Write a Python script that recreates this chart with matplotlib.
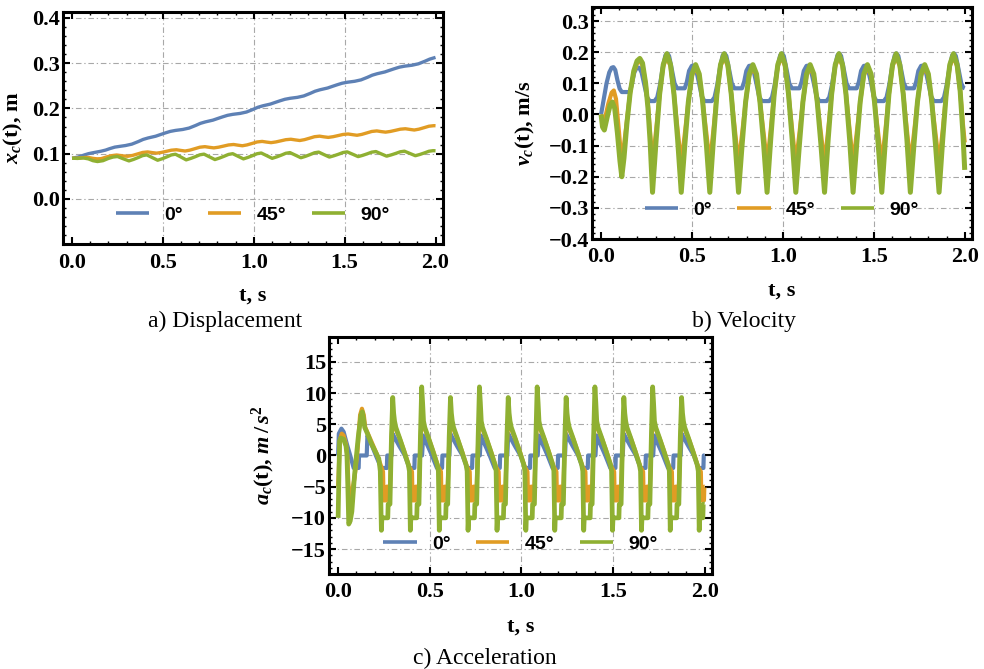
"""
Kinematics of the point c for three inclination angles.

Three framed panels: displacement, velocity and acceleration vs time.
"""

import matplotlib
matplotlib.use("Agg")
import matplotlib.pyplot as plt
from matplotlib.ticker import MultipleLocator

COLORS = ["#5E81B5", "#E19C24", "#8FB032"]
LABELS = ["0°", "45°", "90°"]

time_ticks = [0.0, 0.5, 1.0, 1.5, 2.0]
disp_ticks = [0.0, 0.1, 0.2, 0.3, 0.4]
vel_ticks = [-0.4, -0.3, -0.2, -0.1, 0.0, 0.1, 0.2, 0.3]
acc_ticks = [-15, -10, -5, 0, 5, 10, 15]

# ---- displacement x_c(t), m : (t, x)
disp_blue = [
    (0.000, 0.0900), (0.033, 0.0925), (0.066, 0.0970), (0.090, 0.1000), (0.114, 0.1020),
    (0.160, 0.1055), (0.185, 0.1080), (0.206, 0.1110), (0.235, 0.1145), (0.268, 0.1165),
    (0.294, 0.1180), (0.329, 0.1211), (0.364, 0.1267), (0.391, 0.1315), (0.418, 0.1347),
    (0.460, 0.1386), (0.486, 0.1422), (0.512, 0.1457), (0.540, 0.1492), (0.569, 0.1514),
    (0.609, 0.1535), (0.644, 0.1566), (0.679, 0.1622), (0.706, 0.1670), (0.733, 0.1702),
    (0.775, 0.1741), (0.801, 0.1777), (0.827, 0.1812), (0.855, 0.1847), (0.884, 0.1869),
    (0.925, 0.1890), (0.960, 0.1921), (0.995, 0.1977), (1.022, 0.2025), (1.049, 0.2057),
    (1.091, 0.2096), (1.117, 0.2132), (1.143, 0.2167), (1.171, 0.2202), (1.200, 0.2224),
    (1.240, 0.2245), (1.275, 0.2276), (1.310, 0.2332), (1.337, 0.2380), (1.364, 0.2412),
    (1.406, 0.2451), (1.432, 0.2487), (1.458, 0.2522), (1.486, 0.2557), (1.515, 0.2579),
    (1.555, 0.2600), (1.590, 0.2631), (1.625, 0.2687), (1.652, 0.2735), (1.679, 0.2767),
    (1.721, 0.2806), (1.747, 0.2842), (1.773, 0.2877), (1.801, 0.2912), (1.830, 0.2934),
    (1.871, 0.2955), (1.906, 0.2986), (1.941, 0.3042), (1.968, 0.3090), (2.000, 0.3128),
]
disp_orange = [
    (0.000, 0.0900), (0.020, 0.0898), (0.050, 0.0908), (0.075, 0.0918), (0.095, 0.0913),
    (0.115, 0.0897), (0.138, 0.0886), (0.160, 0.0890), (0.190, 0.0928), (0.215, 0.0955),
    (0.245, 0.0970), (0.270, 0.0958), (0.283, 0.0950),
    (0.307, 0.0943), (0.333, 0.0962), (0.362, 0.0996), (0.388, 0.1027), (0.416, 0.1039), (0.441, 0.1024),
    (0.465, 0.1012), (0.491, 0.1027), (0.520, 0.1053), (0.546, 0.1077), (0.574, 0.1087), (0.598, 0.1072),
    (0.622, 0.1059), (0.648, 0.1078), (0.677, 0.1112), (0.703, 0.1143), (0.731, 0.1155), (0.756, 0.1140),
    (0.780, 0.1128), (0.806, 0.1143), (0.835, 0.1169), (0.861, 0.1193), (0.889, 0.1203), (0.913, 0.1188),
    (0.937, 0.1175), (0.963, 0.1194), (0.992, 0.1228), (1.018, 0.1259), (1.046, 0.1271), (1.071, 0.1256),
    (1.095, 0.1244), (1.121, 0.1259), (1.150, 0.1285), (1.176, 0.1309), (1.204, 0.1319), (1.229, 0.1304),
    (1.253, 0.1291), (1.279, 0.1310), (1.308, 0.1344), (1.334, 0.1375), (1.362, 0.1387), (1.386, 0.1372),
    (1.410, 0.1360), (1.436, 0.1375), (1.465, 0.1401), (1.491, 0.1425), (1.519, 0.1435), (1.544, 0.1420),
    (1.568, 0.1407), (1.594, 0.1426), (1.623, 0.1460), (1.649, 0.1491), (1.677, 0.1503), (1.701, 0.1488),
    (1.725, 0.1476), (1.751, 0.1491), (1.780, 0.1517), (1.806, 0.1541), (1.834, 0.1551), (1.859, 0.1536),
    (1.883, 0.1523), (1.909, 0.1542), (1.938, 0.1576), (1.964, 0.1607), (1.992, 0.1619), (2.000, 0.1617),
]
disp_green = [
    (0.000, 0.0900), (0.030, 0.0895), (0.062, 0.0905), (0.090, 0.0885), (0.115, 0.0845),
    (0.140, 0.0826), (0.170, 0.0845), (0.200, 0.0895), (0.225, 0.0925), (0.250, 0.0937),
    (0.280, 0.0890),
    (0.313, 0.0840), (0.338, 0.0873), (0.363, 0.0913), (0.388, 0.0957), (0.411, 0.0973), (0.441, 0.0914),
    (0.471, 0.0855), (0.496, 0.0888), (0.521, 0.0928), (0.546, 0.0972), (0.569, 0.0988), (0.599, 0.0926),
    (0.628, 0.0863), (0.653, 0.0895), (0.678, 0.0933), (0.703, 0.0975), (0.726, 0.0990), (0.756, 0.0930),
    (0.786, 0.0870), (0.811, 0.0903), (0.836, 0.0942), (0.861, 0.0984), (0.884, 0.1000), (0.913, 0.0943),
    (0.943, 0.0885), (0.968, 0.0918), (0.993, 0.0957), (1.018, 0.0999), (1.041, 0.1015), (1.071, 0.0956),
    (1.101, 0.0897), (1.126, 0.0929), (1.151, 0.0967), (1.176, 0.1009), (1.199, 0.1024), (1.229, 0.0967),
    (1.259, 0.0910), (1.284, 0.0941), (1.309, 0.0979), (1.334, 0.1020), (1.357, 0.1035), (1.386, 0.0980),
    (1.416, 0.0925), (1.441, 0.0954), (1.466, 0.0988), (1.491, 0.1026), (1.514, 0.1040), (1.544, 0.0988),
    (1.574, 0.0935), (1.599, 0.0963), (1.624, 0.0997), (1.649, 0.1034), (1.672, 0.1047), (1.701, 0.0996),
    (1.731, 0.0945), (1.756, 0.0973), (1.781, 0.1006), (1.806, 0.1042), (1.829, 0.1055), (1.859, 0.1005),
    (1.889, 0.0955), (1.914, 0.0983), (1.939, 0.1017), (1.964, 0.1054), (1.987, 0.1067), (2.000, 0.1064),
]

# ---- velocity v_c(t), m/s
vel_blue = [
    (0.000, 0.000), (0.015, 0.050), (0.030, 0.100), (0.045, 0.135), (0.058, 0.150), (0.068, 0.152),
    (0.078, 0.143), (0.090, 0.110), (0.102, 0.083), (0.114, 0.072), (0.158, 0.072), (0.170, 0.100),
    (0.183, 0.135), (0.196, 0.150), (0.210, 0.150), (0.223, 0.135), (0.238, 0.095), (0.253, 0.055),
    (0.268, 0.043),
    (0.294, 0.043), (0.309, 0.055), (0.324, 0.095), (0.339, 0.150), (0.354, 0.190), (0.364, 0.196),
    (0.374, 0.188), (0.389, 0.145), (0.404, 0.100), (0.418, 0.084), (0.460, 0.084), (0.472, 0.105),
    (0.484, 0.140), (0.499, 0.156), (0.512, 0.157), (0.524, 0.140), (0.539, 0.100), (0.554, 0.058),
    (0.569, 0.043),
    (0.609, 0.043), (0.624, 0.055), (0.639, 0.095), (0.654, 0.150), (0.669, 0.190), (0.679, 0.196),
    (0.689, 0.188), (0.704, 0.145), (0.719, 0.100), (0.733, 0.084), (0.775, 0.084), (0.787, 0.105),
    (0.799, 0.140), (0.814, 0.156), (0.827, 0.157), (0.839, 0.140), (0.854, 0.100), (0.869, 0.058),
    (0.884, 0.043),
    (0.925, 0.043), (0.940, 0.055), (0.955, 0.095), (0.970, 0.150), (0.985, 0.190), (0.995, 0.196),
    (1.005, 0.188), (1.020, 0.145), (1.035, 0.100), (1.049, 0.084), (1.091, 0.084), (1.103, 0.105),
    (1.115, 0.140), (1.130, 0.156), (1.143, 0.157), (1.155, 0.140), (1.170, 0.100), (1.185, 0.058),
    (1.200, 0.043),
    (1.240, 0.043), (1.255, 0.055), (1.270, 0.095), (1.285, 0.150), (1.300, 0.190), (1.310, 0.196),
    (1.320, 0.188), (1.335, 0.145), (1.350, 0.100), (1.364, 0.084), (1.406, 0.084), (1.418, 0.105),
    (1.430, 0.140), (1.445, 0.156), (1.458, 0.157), (1.470, 0.140), (1.485, 0.100), (1.500, 0.058),
    (1.515, 0.043),
    (1.555, 0.043), (1.570, 0.055), (1.585, 0.095), (1.600, 0.150), (1.615, 0.190), (1.625, 0.196),
    (1.635, 0.188), (1.650, 0.145), (1.665, 0.100), (1.679, 0.084), (1.721, 0.084), (1.733, 0.105),
    (1.745, 0.140), (1.760, 0.156), (1.773, 0.157), (1.785, 0.140), (1.800, 0.100), (1.815, 0.058),
    (1.830, 0.043),
    (1.871, 0.043), (1.886, 0.055), (1.901, 0.095), (1.916, 0.150), (1.931, 0.190), (1.941, 0.196),
    (1.951, 0.188), (1.966, 0.145), (1.981, 0.100), (1.992, 0.086), (2.000, 0.084),
]
vel_orange = [
    (0.000, 0.000), (0.010, -0.020), (0.022, -0.012), (0.040, 0.035), (0.058, 0.070), (0.070, 0.077),
    (0.082, 0.050), (0.096, -0.040), (0.108, -0.120), (0.115, -0.160), (0.123, -0.115), (0.142, -0.020),
    (0.160, 0.070), (0.180, 0.135), (0.198, 0.165), (0.213, 0.172), (0.228, 0.158), (0.245, 0.100),
    (0.258, 0.030), (0.270, -0.060),
    (0.283, -0.160), (0.303, -0.050), (0.322, 0.065), (0.342, 0.155), (0.362, 0.185), (0.382, 0.155), (0.401, 0.065), (0.421, -0.050),
    (0.441, -0.160), (0.461, -0.060), (0.480, 0.040), (0.500, 0.125), (0.520, 0.152), (0.540, 0.125), (0.559, 0.040), (0.579, -0.060),
    (0.598, -0.160), (0.618, -0.050), (0.637, 0.065), (0.657, 0.155), (0.677, 0.185), (0.697, 0.155), (0.716, 0.065), (0.736, -0.050),
    (0.756, -0.160), (0.776, -0.060), (0.795, 0.040), (0.815, 0.125), (0.835, 0.152), (0.855, 0.125), (0.874, 0.040), (0.894, -0.060),
    (0.913, -0.160), (0.933, -0.050), (0.952, 0.065), (0.972, 0.155), (0.992, 0.185), (1.012, 0.155), (1.031, 0.065), (1.051, -0.050),
    (1.071, -0.160), (1.091, -0.060), (1.110, 0.040), (1.130, 0.125), (1.150, 0.152), (1.170, 0.125), (1.189, 0.040), (1.209, -0.060),
    (1.229, -0.160), (1.249, -0.050), (1.268, 0.065), (1.288, 0.155), (1.308, 0.185), (1.328, 0.155), (1.347, 0.065), (1.367, -0.050),
    (1.386, -0.160), (1.406, -0.060), (1.425, 0.040), (1.445, 0.125), (1.465, 0.152), (1.485, 0.125), (1.504, 0.040), (1.524, -0.060),
    (1.544, -0.160), (1.564, -0.050), (1.583, 0.065), (1.603, 0.155), (1.623, 0.185), (1.643, 0.155), (1.662, 0.065), (1.682, -0.050),
    (1.701, -0.160), (1.721, -0.060), (1.740, 0.040), (1.760, 0.125), (1.780, 0.152), (1.800, 0.125), (1.819, 0.040), (1.839, -0.060),
    (1.859, -0.160), (1.879, -0.050), (1.898, 0.065), (1.918, 0.155), (1.938, 0.185), (1.958, 0.155), (1.975, 0.075), (1.990, -0.030),
    (2.000, -0.090),
]
vel_green = [
    (0.000, 0.000), (0.008, -0.040), (0.018, -0.050), (0.035, -0.005), (0.050, 0.030), (0.062, 0.040),
    (0.075, 0.020), (0.090, -0.060), (0.104, -0.150), (0.114, -0.200), (0.126, -0.140), (0.142, -0.030),
    (0.160, 0.070), (0.180, 0.140), (0.198, 0.172), (0.213, 0.180), (0.228, 0.165), (0.245, 0.100),
    (0.258, 0.020), (0.270, -0.090),
    (0.283, -0.250), (0.303, -0.080), (0.322, 0.065), (0.342, 0.160), (0.362, 0.195), (0.382, 0.160), (0.401, 0.065), (0.421, -0.080),
    (0.441, -0.250), (0.461, -0.095), (0.480, 0.040), (0.500, 0.130), (0.520, 0.160), (0.540, 0.130), (0.559, 0.040), (0.579, -0.095),
    (0.598, -0.250), (0.618, -0.080), (0.637, 0.065), (0.657, 0.160), (0.677, 0.195), (0.697, 0.160), (0.716, 0.065), (0.736, -0.080),
    (0.756, -0.250), (0.776, -0.095), (0.795, 0.040), (0.815, 0.130), (0.835, 0.160), (0.855, 0.130), (0.874, 0.040), (0.894, -0.095),
    (0.913, -0.250), (0.933, -0.080), (0.952, 0.065), (0.972, 0.160), (0.992, 0.195), (1.012, 0.160), (1.031, 0.065), (1.051, -0.080),
    (1.071, -0.250), (1.091, -0.095), (1.110, 0.040), (1.130, 0.130), (1.150, 0.160), (1.170, 0.130), (1.189, 0.040), (1.209, -0.095),
    (1.229, -0.250), (1.249, -0.080), (1.268, 0.065), (1.288, 0.160), (1.308, 0.195), (1.328, 0.160), (1.347, 0.065), (1.367, -0.080),
    (1.386, -0.250), (1.406, -0.095), (1.425, 0.040), (1.445, 0.130), (1.465, 0.160), (1.485, 0.130), (1.504, 0.040), (1.524, -0.095),
    (1.544, -0.250), (1.564, -0.080), (1.583, 0.065), (1.603, 0.160), (1.623, 0.195), (1.643, 0.160), (1.662, 0.065), (1.682, -0.080),
    (1.701, -0.250), (1.721, -0.095), (1.740, 0.040), (1.760, 0.130), (1.780, 0.160), (1.800, 0.130), (1.819, 0.040), (1.839, -0.095),
    (1.859, -0.250), (1.879, -0.080), (1.898, 0.065), (1.918, 0.160), (1.938, 0.195), (1.958, 0.160), (1.975, 0.075), (1.990, -0.060),
    (2.000, -0.178),
]

# ---- acceleration a_c(t), m/s^2
acc_blue = [
    (0.000, 0.0), (0.004, 3.5), (0.018, 4.3), (0.030, 3.8), (0.048, 1.8), (0.066, 0.0), (0.085, -2.0),
    (0.112, -2.0), (0.114, 0.0), (0.156, 0.0), (0.160, 3.2), (0.170, 2.6), (0.190, 1.2), (0.206, 0.0),
    (0.235, -2.0), (0.266, -2.0), (0.268, 0.0),
    (0.292, 0.0), (0.297, 3.5), (0.306, 3.0), (0.334, 1.5), (0.364, 0.0), (0.389, -2.0), (0.416, -2.0), (0.418, 0.0),
    (0.458, 0.0), (0.464, 3.2), (0.472, 2.6), (0.494, 1.2), (0.512, 0.0), (0.539, -2.0), (0.567, -2.0), (0.569, 0.0),
    (0.607, 0.0), (0.612, 3.5), (0.621, 3.0), (0.649, 1.5), (0.679, 0.0), (0.704, -2.0), (0.731, -2.0), (0.733, 0.0),
    (0.773, 0.0), (0.779, 3.2), (0.787, 2.6), (0.809, 1.2), (0.827, 0.0), (0.854, -2.0), (0.882, -2.0), (0.884, 0.0),
    (0.923, 0.0), (0.928, 3.5), (0.937, 3.0), (0.965, 1.5), (0.995, 0.0), (1.020, -2.0), (1.047, -2.0), (1.049, 0.0),
    (1.089, 0.0), (1.095, 3.2), (1.103, 2.6), (1.125, 1.2), (1.143, 0.0), (1.170, -2.0), (1.198, -2.0), (1.200, 0.0),
    (1.238, 0.0), (1.243, 3.5), (1.252, 3.0), (1.280, 1.5), (1.310, 0.0), (1.335, -2.0), (1.362, -2.0), (1.364, 0.0),
    (1.404, 0.0), (1.410, 3.2), (1.418, 2.6), (1.440, 1.2), (1.458, 0.0), (1.485, -2.0), (1.513, -2.0), (1.515, 0.0),
    (1.553, 0.0), (1.558, 3.5), (1.567, 3.0), (1.595, 1.5), (1.625, 0.0), (1.650, -2.0), (1.677, -2.0), (1.679, 0.0),
    (1.719, 0.0), (1.725, 3.2), (1.733, 2.6), (1.755, 1.2), (1.773, 0.0), (1.800, -2.0), (1.828, -2.0), (1.830, 0.0),
    (1.869, 0.0), (1.874, 3.5), (1.883, 3.0), (1.911, 1.5), (1.941, 0.0), (1.966, -2.0), (1.993, -2.0), (1.995, 0.0),
    (2.000, 0.0),
]
acc_orange = [
    (0.000, -5.0), (0.004, -2.0), (0.010, 2.5), (0.020, 3.5), (0.030, 3.2), (0.043, 1.8), (0.050, 0.0),
    (0.056, -4.5), (0.062, -6.5), (0.072, -6.5), (0.090, -3.5), (0.105, 0.5), (0.120, 6.5), (0.130, 7.5),
    (0.140, 6.5), (0.148, 4.5), (0.163, 3.5), (0.185, 2.0), (0.210, 0.3), (0.235, -1.8), (0.245, -2.6),
    (0.248, -7.2), (0.263, -7.2), (0.265, -5.0),
    (0.283, -5.0), (0.291, 2.0), (0.299, 7.0), (0.304, 5.5), (0.310, 4.6), (0.318, 4.0), (0.338, 2.6),
    (0.363, 0.5), (0.388, -1.8), (0.403, -2.6), (0.406, -7.2), (0.421, -7.2), (0.423, -5.0),
    (0.441, -5.0), (0.449, 2.0), (0.457, 7.0), (0.462, 5.5), (0.468, 4.6), (0.476, 4.0), (0.496, 2.6),
    (0.521, 0.5), (0.546, -1.8), (0.561, -2.6), (0.564, -7.2), (0.579, -7.2), (0.581, -5.0),
    (0.598, -5.0), (0.606, 2.0), (0.614, 7.0), (0.619, 5.5), (0.625, 4.6), (0.633, 4.0), (0.653, 2.6),
    (0.678, 0.5), (0.703, -1.8), (0.718, -2.6), (0.721, -7.2), (0.736, -7.2), (0.738, -5.0),
    (0.756, -5.0), (0.764, 2.0), (0.772, 7.0), (0.777, 5.5), (0.783, 4.6), (0.791, 4.0), (0.811, 2.6),
    (0.836, 0.5), (0.861, -1.8), (0.876, -2.6), (0.879, -7.2), (0.894, -7.2), (0.896, -5.0),
    (0.913, -5.0), (0.921, 2.0), (0.929, 7.0), (0.934, 5.5), (0.940, 4.6), (0.948, 4.0), (0.968, 2.6),
    (0.993, 0.5), (1.018, -1.8), (1.033, -2.6), (1.036, -7.2), (1.051, -7.2), (1.053, -5.0),
    (1.071, -5.0), (1.079, 2.0), (1.087, 7.0), (1.092, 5.5), (1.098, 4.6), (1.106, 4.0), (1.126, 2.6),
    (1.151, 0.5), (1.176, -1.8), (1.191, -2.6), (1.194, -7.2), (1.209, -7.2), (1.211, -5.0),
    (1.229, -5.0), (1.237, 2.0), (1.245, 7.0), (1.250, 5.5), (1.256, 4.6), (1.264, 4.0), (1.284, 2.6),
    (1.309, 0.5), (1.334, -1.8), (1.349, -2.6), (1.352, -7.2), (1.367, -7.2), (1.369, -5.0),
    (1.386, -5.0), (1.394, 2.0), (1.402, 7.0), (1.407, 5.5), (1.413, 4.6), (1.421, 4.0), (1.441, 2.6),
    (1.466, 0.5), (1.491, -1.8), (1.506, -2.6), (1.509, -7.2), (1.524, -7.2), (1.526, -5.0),
    (1.544, -5.0), (1.552, 2.0), (1.560, 7.0), (1.565, 5.5), (1.571, 4.6), (1.579, 4.0), (1.599, 2.6),
    (1.624, 0.5), (1.649, -1.8), (1.664, -2.6), (1.667, -7.2), (1.682, -7.2), (1.684, -5.0),
    (1.701, -5.0), (1.709, 2.0), (1.717, 7.0), (1.722, 5.5), (1.728, 4.6), (1.736, 4.0), (1.756, 2.6),
    (1.781, 0.5), (1.806, -1.8), (1.821, -2.6), (1.824, -7.2), (1.839, -7.2), (1.841, -5.0),
    (1.859, -5.0), (1.867, 2.0), (1.875, 7.0), (1.880, 5.5), (1.886, 4.6), (1.894, 4.0), (1.914, 2.6),
    (1.939, 0.5), (1.964, -1.8), (1.979, -2.6), (1.982, -7.2), (1.996, -7.2), (1.998, -5.0), (2.000, -5.0),
]
acc_green = [
    (0.000, -10.0), (0.004, -4.0), (0.008, 2.3), (0.015, 2.8), (0.030, 2.6), (0.043, 1.5), (0.048, 0.2),
    (0.053, -5.0), (0.058, -11.0), (0.066, -10.5), (0.075, -9.0), (0.090, -3.0), (0.110, 3.0),
    (0.125, 6.5), (0.132, 7.0), (0.138, 6.0), (0.145, 4.5), (0.160, 3.5), (0.180, 2.0), (0.200, 0.8),
    (0.222, -0.5), (0.230, -2.5), (0.236, -12.0), (0.239, -10.0), (0.271, -10.0), (0.273, -7.8),
    (0.283, -7.8), (0.291, 3.0), (0.298, 9.3), (0.303, 6.8), (0.308, 5.5), (0.315, 4.5), (0.333, 3.0),
    (0.358, 0.8), (0.383, -1.5), (0.389, -2.5), (0.394, -12.0), (0.397, -10.0), (0.429, -10.0), (0.431, -7.8),
    (0.441, -7.8), (0.449, 3.0), (0.456, 11.0), (0.461, 8.5), (0.466, 5.5), (0.473, 4.5), (0.491, 3.0),
    (0.516, 0.8), (0.541, -1.5), (0.547, -2.5), (0.552, -12.0), (0.555, -10.0), (0.587, -10.0), (0.589, -7.8),
    (0.598, -7.8), (0.606, 3.0), (0.613, 9.3), (0.618, 6.8), (0.623, 5.5), (0.630, 4.5), (0.648, 3.0),
    (0.673, 0.8), (0.698, -1.5), (0.704, -2.5), (0.709, -12.0), (0.712, -10.0), (0.744, -10.0), (0.746, -7.8),
    (0.756, -7.8), (0.764, 3.0), (0.771, 11.0), (0.776, 8.5), (0.781, 5.5), (0.788, 4.5), (0.806, 3.0),
    (0.831, 0.8), (0.856, -1.5), (0.862, -2.5), (0.867, -12.0), (0.870, -10.0), (0.902, -10.0), (0.904, -7.8),
    (0.913, -7.8), (0.921, 3.0), (0.928, 9.3), (0.933, 6.8), (0.938, 5.5), (0.945, 4.5), (0.963, 3.0),
    (0.988, 0.8), (1.013, -1.5), (1.019, -2.5), (1.024, -12.0), (1.027, -10.0), (1.059, -10.0), (1.061, -7.8),
    (1.071, -7.8), (1.079, 3.0), (1.086, 11.0), (1.091, 8.5), (1.096, 5.5), (1.103, 4.5), (1.121, 3.0),
    (1.146, 0.8), (1.171, -1.5), (1.177, -2.5), (1.182, -12.0), (1.185, -10.0), (1.217, -10.0), (1.219, -7.8),
    (1.229, -7.8), (1.237, 3.0), (1.244, 9.3), (1.249, 6.8), (1.254, 5.5), (1.261, 4.5), (1.279, 3.0),
    (1.304, 0.8), (1.329, -1.5), (1.335, -2.5), (1.340, -12.0), (1.343, -10.0), (1.375, -10.0), (1.377, -7.8),
    (1.386, -7.8), (1.394, 3.0), (1.401, 11.0), (1.406, 8.5), (1.411, 5.5), (1.418, 4.5), (1.436, 3.0),
    (1.461, 0.8), (1.486, -1.5), (1.492, -2.5), (1.497, -12.0), (1.500, -10.0), (1.532, -10.0), (1.534, -7.8),
    (1.544, -7.8), (1.552, 3.0), (1.559, 9.3), (1.564, 6.8), (1.569, 5.5), (1.576, 4.5), (1.594, 3.0),
    (1.619, 0.8), (1.644, -1.5), (1.650, -2.5), (1.655, -12.0), (1.658, -10.0), (1.690, -10.0), (1.692, -7.8),
    (1.701, -7.8), (1.709, 3.0), (1.716, 11.0), (1.721, 8.5), (1.726, 5.5), (1.733, 4.5), (1.751, 3.0),
    (1.776, 0.8), (1.801, -1.5), (1.807, -2.5), (1.812, -12.0), (1.815, -10.0), (1.847, -10.0), (1.849, -7.8),
    (1.859, -7.8), (1.867, 3.0), (1.874, 9.3), (1.879, 6.8), (1.884, 5.5), (1.891, 4.5), (1.909, 3.0),
    (1.934, 0.8), (1.959, -1.5), (1.965, -2.5), (1.970, -12.0), (1.973, -10.0), (1.990, -10.0), (1.992, -7.8),
    (2.000, -7.8),
]

GRID = dict(color="#a8a8a8", linewidth=0.8, linestyle=(0, (5, 2.5, 1.2, 2.5)), zorder=0.5)


def tick_text(values, fmt):
    """Format tick values with a typographic minus."""
    return [(fmt % v).replace("-", "\u2212") for v in values]


def style_axes(ax, ylim, yticks, yfmt, yminor, ylabel, ylabel_x):
    """Mathematica-like frame: inward ticks on all sides, dash-dot grid."""
    ax.set_xlim(-0.05, 2.04)
    ax.set_ylim(*ylim)
    ax.set_xticks(time_ticks)
    ax.set_xticklabels(tick_text(time_ticks, "%.1f"))
    ax.set_yticks(yticks)
    ax.set_yticklabels(tick_text(yticks, yfmt))
    ax.xaxis.set_minor_locator(MultipleLocator(0.1))
    ax.yaxis.set_minor_locator(MultipleLocator(yminor))
    ax.tick_params(which="both", direction="in", top=True, right=True)
    ax.tick_params(which="major", length=5, width=1.5, labelsize=16)
    ax.tick_params(which="minor", length=2.5, width=1.0)
    ax.tick_params(axis="x", pad=6)
    ax.tick_params(axis="y", pad=2)
    for spine in ax.spines.values():
        spine.set_linewidth(2.2)

    for gx in time_ticks[1:-1]:
        ax.axvline(gx, **GRID)
    for gy in yticks:
        if ylim[0] < gy < ylim[1]:
            ax.axhline(gy, **GRID)

    ax.set_xlabel("t, s", fontsize=16, fontweight="bold")
    ax.xaxis.set_label_coords(0.5, -0.18)
    ax.set_ylabel(ylabel, fontsize=16, fontweight="bold")
    ax.yaxis.set_label_coords(ylabel_x, 0.5)


def draw_curves(ax, series, widths):
    for pts, color, label, lw in zip(series, COLORS, LABELS, widths):
        t = [p[0] for p in pts]
        y = [p[1] for p in pts]
        ax.plot(t, y, color=color, lw=lw, label=label,
                solid_joinstyle="round", solid_capstyle="butt", zorder=2)
    leg = ax.legend(loc="center", bbox_to_anchor=(0.5, 0.125), ncol=3, frameon=False,
                    handlelength=1.7, handletextpad=0.8, columnspacing=1.3,
                    borderaxespad=0,
                    prop={"family": "Liberation Sans", "weight": "bold", "size": 14})
    for line in leg.get_lines():
        line.set_linewidth(2.6)


def main():
    plt.rcParams["font.family"] = "Liberation Serif"
    plt.rcParams["font.weight"] = "bold"
    plt.rcParams["mathtext.fontset"] = "custom"
    plt.rcParams["mathtext.rm"] = "Liberation Serif:bold"
    plt.rcParams["mathtext.it"] = "Liberation Serif:italic:bold"
    plt.rcParams["mathtext.bf"] = "Liberation Serif:bold"

    fig = plt.figure(figsize=(9.84, 6.69), dpi=100)
    ax_x = fig.add_axes([0.064, 0.635, 0.386, 0.347])
    ax_v = fig.add_axes([0.6016, 0.6427, 0.3862, 0.3468])
    ax_a = fig.add_axes([0.3343, 0.142, 0.3893, 0.3543])

    draw_curves(ax_x, [disp_blue, disp_orange, disp_green], (2.4, 2.4, 2.4))
    style_axes(ax_x, (-0.1, 0.413), disp_ticks, "%.1f", 0.02,
               r"$x_c$(t), m", -0.10)

    draw_curves(ax_v, [vel_blue, vel_orange, vel_green], (3.0, 3.0, 3.6))
    style_axes(ax_v, (-0.4, 0.345), vel_ticks, "%.1f", 0.02,
               r"$v_c$(t), m/s", -0.145)

    draw_curves(ax_a, [acc_blue, acc_orange, acc_green], (3.0, 3.0, 3.4))
    style_axes(ax_a, (-19, 19), acc_ticks, "%d", 1,
               r"$a_c$(t), $m\,/\,s^2$", -0.136)

    cap = dict(fontsize=17, fontweight="normal", ha="center", va="center")
    fig.text(0.2287, 0.519, "a) Displacement", **cap)
    fig.text(0.756, 0.519, "b) Velocity", **cap)
    fig.text(0.493, 0.0164, "c) Acceleration", **cap)

    fig.savefig("out.png", dpi=100)


if __name__ == "__main__":
    main()
